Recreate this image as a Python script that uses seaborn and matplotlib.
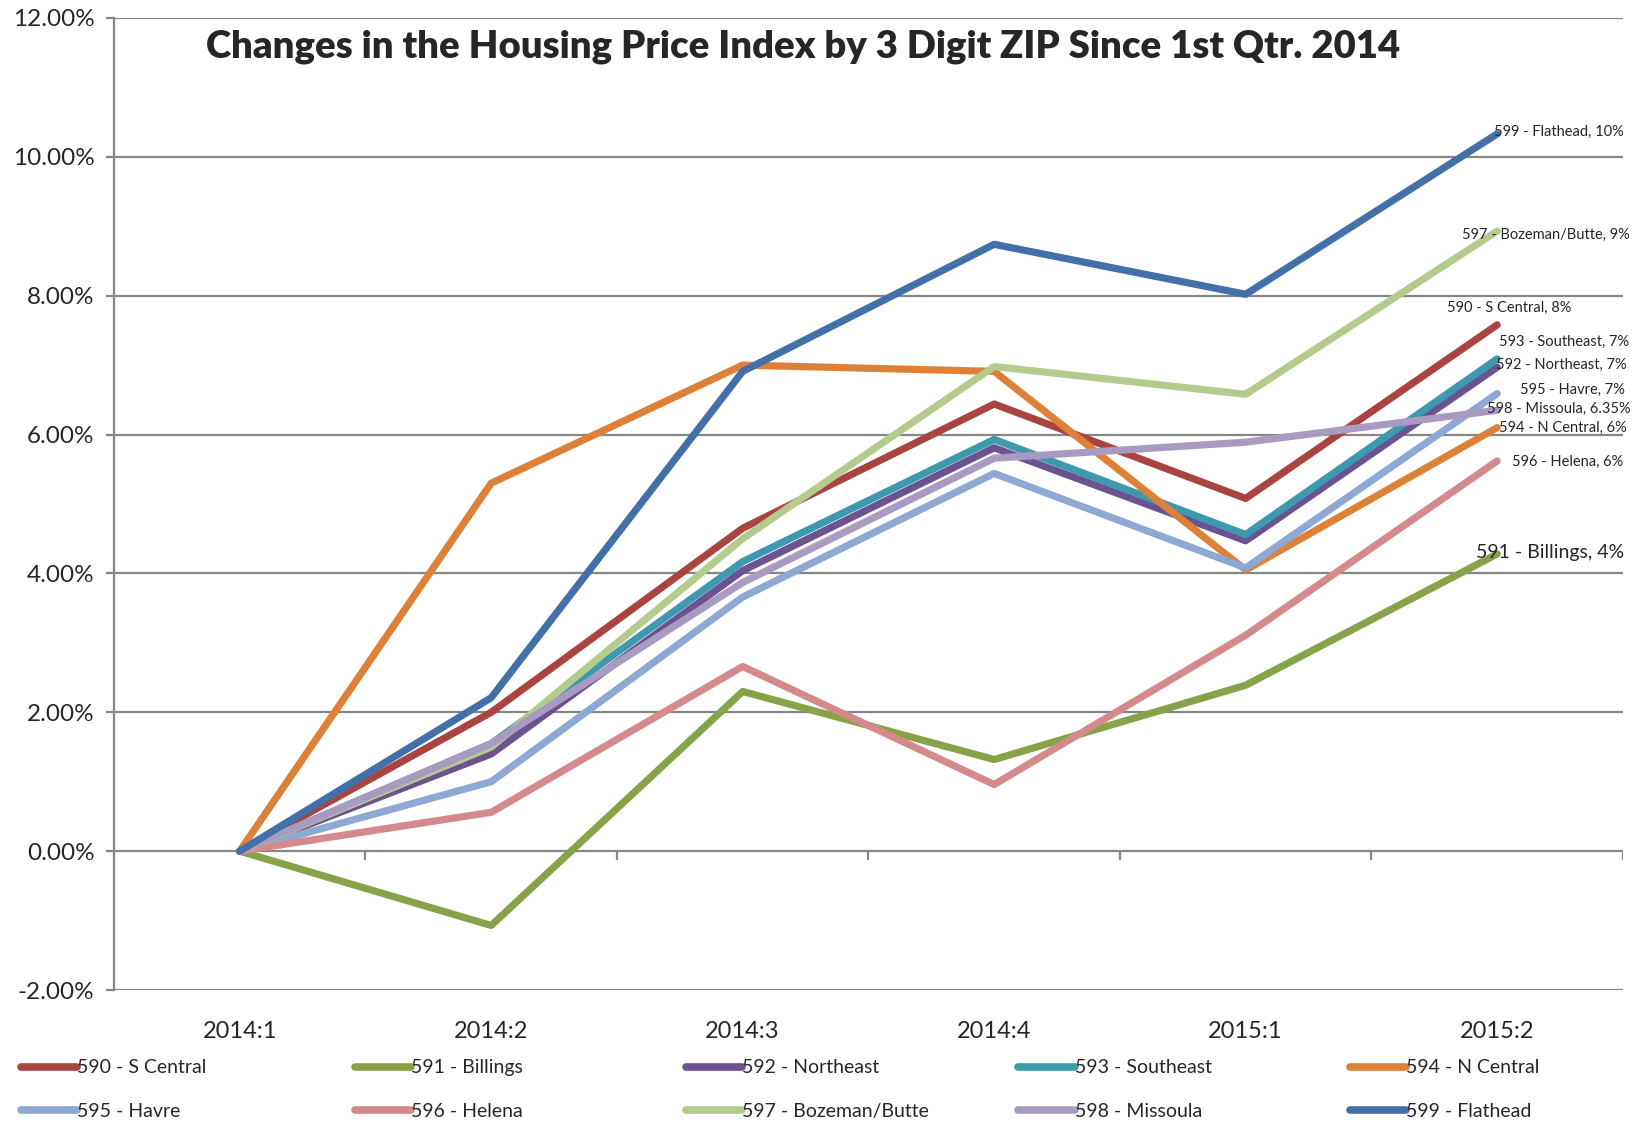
import pandas as pd
import numpy as np
import matplotlib
matplotlib.use("Agg")
import matplotlib.pyplot as plt
import seaborn as sns
from matplotlib.lines import Line2D

sns.set_style("white")
plt.rcParams['font.family'] = ['Lato', 'DejaVu Sans']

# data
quarters = ["2014:1", "2014:2", "2014:3", "2014:4", "2015:1", "2015:2"]
zip_names = ["590 - S Central", "591 - Billings", "592 - Northeast", "593 - Southeast", "594 - N Central",
             "595 - Havre", "596 - Helena", "597 - Bozeman/Butte", "598 - Missoula", "599 - Flathead"]
s_central = [0.0, 2.00, 4.65, 6.44, 5.08, 7.58]
billings = [0.0, -1.07, 2.30, 1.32, 2.39, 4.28]
northeast = [0.0, 1.40, 4.04, 5.81, 4.47, 6.97]
southeast = [0.0, 1.55, 4.17, 5.93, 4.56, 7.09]
n_central = [0.0, 5.30, 7.00, 6.91, 4.05, 6.10]
havre = [0.0, 1.00, 3.66, 5.44, 4.08, 6.59]
helena = [0.0, 0.56, 2.66, 0.96, 3.11, 5.62]
bozeman = [0.0, 1.50, 4.50, 6.98, 6.58, 8.93]
missoula = [0.0, 1.55, 3.87, 5.66, 5.89, 6.35]
flathead = [0.0, 2.21, 6.91, 8.74, 8.02, 10.33]
end_labels = ["8%", "4%", "7%", "7%", "6%", "7%", "6%", "9%", "6.35%", "10%"]

colors = ["#A94440", "#86A34A", "#6B5290", "#3E99AE", "#DE8138",
          "#8DA8D2", "#D48A8A", "#B3CC8E", "#A99AC2", "#4470A9"]

series = [s_central, billings, northeast, southeast, n_central,
          havre, helena, bozeman, missoula, flathead]

rows = []
for name, vals in zip(zip_names, series):
    for i, v in enumerate(vals):
        rows.append({"zip": name, "qtr": i, "pct": v / 100})
df = pd.DataFrame(rows)

# %%
fig = plt.figure(figsize=(16.37, 11.22), dpi=100)
ax = fig.add_axes([0.0696, 0.1176, 0.9218, 0.8664])

sns.lineplot(data=df, x="qtr", y="pct", hue="zip", hue_order=zip_names,
             palette=colors, linewidth=5.2, sort=False, ax=ax, legend=False,
             solid_capstyle="round", solid_joinstyle="round")

yt = np.arange(-0.02, 0.121, 0.02)
ax.set_xlim(-0.5, 5.5)
ax.set_ylim(-0.02, 0.12)
ax.set_yticks(yt)
ax.set_yticklabels([f"{t*100:.2f}%" for t in yt], fontsize=17.5)
ax.set_xticks(range(len(quarters)))
ax.set_xticklabels(quarters, fontsize=17)
ax.set_xlabel("")
ax.set_ylabel("")

ax.grid(axis="y", color="#868686", linewidth=1.6)
ax.set_axisbelow(True)
for side in ["top", "right", "bottom"]:
    ax.spines[side].set_visible(False)
ax.spines["left"].set_color("#868686")
ax.spines["left"].set_linewidth(1.6)
ax.tick_params(axis="y", length=6, width=1.6, color="#868686", pad=8, left=True)
ax.tick_params(axis="x", length=0, pad=22)

# category tick marks on the zero line
ax.vlines(np.arange(0.5, 6, 1), -0.0013, 0, color="#868686", linewidth=1.6)

# end-of-line labels
offsets = [(-36, 12), (-15, 1), (-1, 2), (1.5, 12), (1.5, 0),
           (16.5, 3), (11, -1), (-25, -3), (-7, 1), (-2, 1.5)]
for name, vals, lab, off in zip(zip_names, series, end_labels, offsets):
    fs = 14 if name.startswith("591") else 10.5
    ax.annotate(f"{name}, {lab}", xy=(5, vals[-1] / 100), xytext=off,
                textcoords="offset points", ha="left", va="center", fontsize=fs)

ax.text(0.457, 0.97, "Changes in the Housing Price Index by 3 Digit ZIP Since 1st Qtr. 2014",
        transform=ax.transAxes, ha="center", va="center", fontsize=27.5, fontweight="heavy")

# legend, two rows of five, one column at a time
col_x = [0.0128, 0.2169, 0.419, 0.622, 0.8247]
for c, x0 in enumerate(col_x):
    idx = [c, c + 5]
    handles = [Line2D([0], [0], color=colors[i], linewidth=5.5, solid_capstyle="round") for i in idx]
    fig.legend(handles, [zip_names[i] for i in idx], loc="center left",
               bbox_to_anchor=(x0, 0.029), frameon=False, fontsize=14,
               handlelength=2.9, handletextpad=0.0, labelspacing=1.35,
               borderpad=0, borderaxespad=0)

fig.savefig("out.png", dpi=100)
